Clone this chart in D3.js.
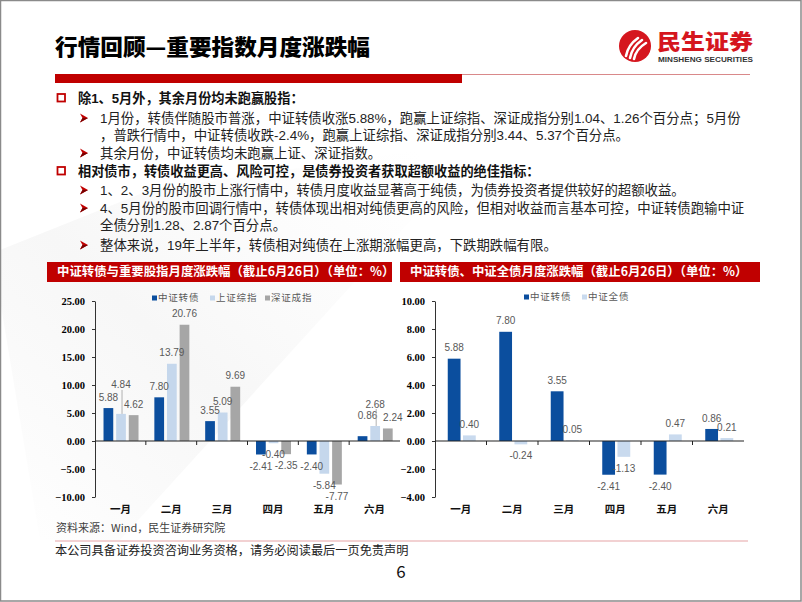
<!DOCTYPE html>
<html><head><meta charset="utf-8">
<script src="https://cdn.jsdelivr.net/npm/d3@7"></script>
<style>body{margin:0;background:#fff}svg{display:block}</style>
</head><body><svg id="c" width="802" height="602"></svg>
<script>
// ---------------- data ----------------
const months = ["一月","二月","三月","四月","五月","六月"];
const leftSeries = ["中证转债","上证综指","深证成指"];
const rightSeries = ["中证转债","中证全债"];
const cbValues = [5.88, 7.80, 3.55, -2.41, -2.40, 0.86];     // 中证转债
const shValues = [4.84, 13.79, 5.09, -0.40, -5.84, 2.68];    // 上证综指
const szValues = [4.62, 20.76, 9.69, -2.35, -7.77, 2.24];    // 深证成指
const bondValues = [0.40, -0.24, 0.05, -1.13, 0.47, 0.21];   // 中证全债
const leftTicks = [-10, -5, 0, 5, 10, 15, 20, 25];
const rightTicks = [-4, -2, 0, 2, 4, 6, 8, 10];

const titleText = "行情回顾—重要指数月度涨跌幅";
const leftHeader = "中证转债与重要股指月度涨跌幅（截止6月26日）（单位：%）";
const rightHeader = "中证转债、中证全债月度涨跌幅（截止6月26日）（单位：%）";
const sourceText = "资料来源：Wind，民生证券研究院";
const footerText = "本公司具备证券投资咨询业务资格，请务必阅读最后一页免责声明";
const pageNo = "6";
const bullets = [
  {kind:"sq", bold:true, text:"除1、5月外，其余月份均未跑赢股指："},
  {kind:"ar", text:"1月份，转债伴随股市普涨，中证转债收涨5.88%，跑赢上证综指、深证成指分别1.04、1.26个百分点；5月份"},
  {kind:"ct", text:"，普跌行情中，中证转债收跌-2.4%，跑赢上证综指、深证成指分别3.44、5.37个百分点。"},
  {kind:"ar", text:"其余月份，中证转债均未跑赢上证、深证指数。"},
  {kind:"sq", bold:true, text:"相对债市，转债收益更高、风险可控，是债券投资者获取超额收益的绝佳指标："},
  {kind:"ar", text:"1、2、3月份的股市上涨行情中，转债月度收益显著高于纯债，为债券投资者提供较好的超额收益。"},
  {kind:"ar", text:"4、5月份的股市回调行情中，转债体现出相对纯债更高的风险，但相对收益而言基本可控，中证转债跑输中证"},
  {kind:"ct", text:"全债分别1.28、2.87个百分点。"},
  {kind:"ar", text:"整体来说，19年上半年，转债相对纯债在上涨期涨幅更高，下跌期跌幅有限。"}
];

// ---------------- styles / layout ----------------
const RED = "#C00000";
const C_CB = "#0B4E9E", C_SH = "#C5D7EC", C_SZ = "#A6A6A6", C_BOND = "#C9DAEE";
const SANS = "'Noto Sans CJK SC','Noto Sans',sans-serif";
const BODY = "'Liberation Sans','Noto Sans CJK SC',sans-serif";
const SERIF = "'Liberation Serif','DejaVu Serif',serif";
const NUM = "'Liberation Sans',Arial,sans-serif";
const bulletY = [98, 118, 135, 153, 171, 190, 208, 225, 245];
// label nudges for crowded labels: key "series|month"
const leftNudge = {
  "上证综指|一月": {dx:0, dy:-18, leader:true},
  "中证转债|六月": {dx:5, dy:-10},
  "上证综指|六月": {dx:0, dy:-11, leader:true},
  "深证成指|六月": {dx:5, dy:0}
};

const svg = d3.select("#c");
svg.append("rect").attr("width",802).attr("height",602).attr("fill","#fff");

// faint background shading
const defs = svg.append("defs");
const g1 = defs.append("linearGradient").attr("id","shade").attr("x1","0").attr("y1","1").attr("x2","1").attr("y2","0");
g1.append("stop").attr("offset","0").attr("stop-color","#e9e9e9").attr("stop-opacity",0.0);
g1.append("stop").attr("offset","0.45").attr("stop-color","#ececec").attr("stop-opacity",0.7);
g1.append("stop").attr("offset","1").attr("stop-color","#f4f4f4").attr("stop-opacity",0.0);
svg.append("path").attr("d","M0,300 L0,250 L150,190 L420,150 L420,210 L120,540 L40,540 Z").attr("fill","url(#shade)").attr("opacity",0.6);

// slide border
svg.append("rect").attr("x",0.5).attr("y",0.5).attr("width",800.5).attr("height",600.5)
  .attr("fill","none").attr("stroke","#8a8a8a").attr("stroke-width",1.5);

// ---------------- title & logo ----------------
svg.append("text").attr("x",55).attr("y",47).attr("dy","0.36em")
  .attr("font-family",SANS).attr("font-weight",900).attr("font-size",22).attr("fill","#000")
  .attr("textLength",315).attr("lengthAdjust","spacingAndGlyphs").text(titleText);
svg.append("rect").attr("x",55).attr("y",74).attr("width",407).attr("height",9).attr("fill",RED);
svg.append("line").attr("x1",462).attr("x2",750).attr("y1",74.5).attr("y2",74.5).attr("stroke","#D9898A").attr("stroke-width",1);

const logo = svg.append("g");
logo.append("circle").attr("cx",635).attr("cy",46).attr("r",16).attr("fill","#D5161E");
[[-9,10,3,-8],[-5,12,7,-6],[-1,13,11,-3]].forEach(([x1,y1,x2,y2])=>{
  logo.append("path").attr("d",`M${635+x1},${46+y1} Q${635+x1+2},${46+(y1+y2)/2-2} ${635+x2},${46+y2}`)
    .attr("stroke","#fff").attr("stroke-width",2.6).attr("fill","none").attr("stroke-linecap","round");
});
logo.append("text").attr("x",657).attr("y",41).attr("dy","0.36em").attr("font-family",SANS).attr("font-weight",900)
  .attr("font-size",21).attr("fill","#D5161E").attr("textLength",96).attr("lengthAdjust","spacingAndGlyphs").text("民生证券");
logo.append("text").attr("x",658).attr("y",59).attr("dy","0.36em").attr("font-family","'Liberation Sans',Arial,sans-serif").attr("font-weight",700)
  .attr("font-size",7.5).attr("fill","#333").attr("textLength",95).attr("lengthAdjust","spacingAndGlyphs").text("MINSHENG SECURITIES");

// ---------------- bullets ----------------
bullets.forEach((b,i)=>{
  const y = bulletY[i];
  if (b.kind==="sq") {
    svg.append("rect").attr("x",57.5).attr("y",y-4).attr("width",7.5).attr("height",7.5)
      .attr("fill","none").attr("stroke",RED).attr("stroke-width",1.8);
    svg.append("text").attr("x",78).attr("y",y).attr("dy","0.36em").attr("font-family",BODY)
      .attr("font-weight",700).attr("font-size",13.2).attr("fill","#111").text(b.text);
  } else {
    if (b.kind==="ar") {
      svg.append("path").attr("d",`M80,${y-4.5} L88,${y} L80,${y+4.5} L82.5,${y} Z`).attr("fill",RED);
      svg.append("path").attr("d",`M80,${y+4.5} L88,${y} L82.5,${y} Z`).attr("fill","#7a0000");
    }
    svg.append("text").attr("x",100).attr("y",y).attr("dy","0.36em").attr("font-family",BODY)
      .attr("font-size",13.4).attr("fill","#222").text(b.text);
  }
});

// ---------------- chart headers ----------------
function header(x,w,txt){
  svg.append("rect").attr("x",x).attr("y",262).attr("width",w).attr("height",20).attr("fill",RED);
  svg.append("text").attr("x",x+10).attr("y",272).attr("dy","0.36em").attr("font-family",SANS)
    .attr("font-weight",700).attr("font-size",12.4).attr("fill","#fff").text(txt);
}
header(47,345,leftHeader);
header(400,360,rightHeader);

// ---------------- chart builder ----------------
function barChart(opt){
  const g = svg.append("g");
  const x = d3.scaleBand().domain(months).range([opt.x0, opt.x1]).padding(0);
  const xs = d3.scaleBand().domain(opt.series.map(s=>s.name)).range([-opt.group/2, opt.group/2]).paddingInner(opt.inner);
  const y = d3.scaleLinear().domain(opt.domain).range([497, 301]);

  // y axis
  const ya = g.append("g").attr("transform",`translate(${opt.x0},0)`)
    .call(d3.axisLeft(y).tickValues(opt.ticks).tickFormat(d3.format(".2f")).tickSize(3).tickSizeOuter(0).tickPadding(7));
  ya.select(".domain").attr("stroke","#333");
  ya.selectAll(".tick line").attr("stroke","#333");
  ya.selectAll(".tick text").attr("font-family",SERIF).attr("font-weight",700).attr("font-size",10.5).attr("fill","#000");

  // bars
  opt.series.forEach(s=>{
    g.selectAll(null).data(months.map((m,i)=>({m, v:s.values[i]}))).join("rect")
      .attr("x",d=>x(d.m)+x.bandwidth()/2+xs(s.name)+opt.shift)
      .attr("width",xs.bandwidth())
      .attr("y",d=>y(Math.max(0,d.v)))
      .attr("height",d=>Math.abs(y(d.v)-y(0)))
      .attr("fill",s.color);
  });

  // x axis line & boundary ticks
  g.append("line").attr("x1",opt.x0).attr("x2",opt.x1).attr("y1",y(0)).attr("y2",y(0)).attr("stroke","#222").attr("stroke-width",1.2);
  d3.range(1,months.length).forEach(i=>{
    const bx = opt.x0 + i*x.step();
    g.append("line").attr("x1",bx).attr("x2",bx).attr("y1",y(0)).attr("y2",y(0)+4).attr("stroke","#222");
  });

  // category labels
  g.selectAll(null).data(months).join("text")
    .attr("x",m=>x(m)+x.bandwidth()/2).attr("y",509).attr("dy","0.36em").attr("text-anchor","middle")
    .attr("font-family",SANS).attr("font-weight",700).attr("font-size",10.5).attr("fill","#111").text(m=>m);

  // data labels
  opt.series.forEach(s=>{
    months.forEach((m,i)=>{
      const v = s.values[i];
      const cx = x(m)+x.bandwidth()/2+xs(s.name)+opt.shift+xs.bandwidth()/2;
      const base = v>=0 ? y(v)-11 : y(v)+11.5;
      const n = (opt.nudge||{})[s.name+"|"+m] || {dx:0,dy:0};
      const lx = cx+n.dx, ly = base+n.dy;
      if (n.leader) {
        g.append("line").attr("x1",cx+1).attr("x2",cx+1).attr("y1",ly+5).attr("y2",y(v)).attr("stroke","#a0a0a0").attr("stroke-width",0.8);
      }
      g.append("text").attr("x",lx).attr("y",ly).attr("dy","0.36em").attr("text-anchor","middle")
        .attr("font-family",NUM).attr("font-size",10).attr("fill","#595959").text(v.toFixed(2));
    });
  });

  // legend
  opt.series.forEach((s,k)=>{
    const lx = opt.legendX[k];
    g.append("rect").attr("x",lx).attr("y",opt.legendY-2.5).attr("width",5).attr("height",5).attr("fill",s.color);
    g.append("text").attr("x",lx+6).attr("y",opt.legendY).attr("dy","0.36em").attr("font-family",SANS)
      .attr("font-size",9.5).attr("letter-spacing",0.8).attr("fill","#595959").text(s.name);
  });
}

barChart({
  x0:95, x1:400, group:35, inner:0.23, shift:0.6, domain:[-10,25], ticks:leftTicks,
  series:[{name:leftSeries[0],values:cbValues,color:C_CB},{name:leftSeries[1],values:shValues,color:C_SH},{name:leftSeries[2],values:szValues,color:C_SZ}],
  legendX:[152,210,265], legendY:298, nudge:leftNudge
});
barChart({
  x0:435, x1:744, group:28, inner:0.16, shift:1, domain:[-4,10], ticks:rightTicks,
  series:[{name:rightSeries[0],values:cbValues,color:C_CB},{name:rightSeries[1],values:bondValues,color:C_BOND}],
  legendX:[524,582], legendY:297
});

// ---------------- source & footer ----------------
svg.append("text").attr("x",56).attr("y",528).attr("dy","0.36em").attr("font-family",SANS)
  .attr("font-size",11).attr("fill","#404040").text(sourceText);
svg.append("line").attr("x1",55).attr("x2",748).attr("y1",541).attr("y2",541).attr("stroke","#E6A3A6").attr("stroke-width",1.2);
svg.append("text").attr("x",55).attr("y",551).attr("dy","0.36em").attr("font-family",SANS)
  .attr("font-size",12.2).attr("fill","#222").text(footerText);
svg.append("text").attr("x",401).attr("y",572).attr("dy","0.36em").attr("text-anchor","middle").attr("font-family",SANS)
  .attr("font-size",17).attr("fill","#111").text(pageNo);
</script></body></html>
